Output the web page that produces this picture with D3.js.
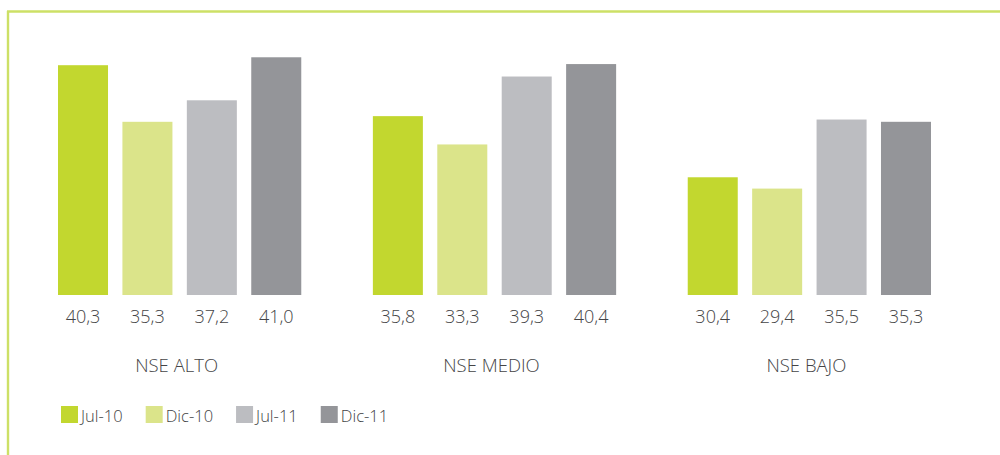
<!DOCTYPE html>
<html>
<head>
<meta charset="utf-8">
<script src="https://cdn.jsdelivr.net/npm/d3@7"></script>
<style>
  html, body { margin: 0; padding: 0; background: #fff; }
  svg { display: block; font-family: "Open Sans", sans-serif; font-weight: 300; }
</style>
</head>
<body>
<svg id="chart" width="1000" height="455"></svg>
<script>
const groups = ["NSE ALTO", "NSE MEDIO", "NSE BAJO"];
const series = ["Jul-10", "Dic-10", "Jul-11", "Dic-11"];
const nseAlto = [40.3, 35.3, 37.2, 41.0];
const nseMedio = [35.8, 33.3, 39.3, 40.4];
const nseBajo = [30.4, 29.4, 35.5, 35.3];
const colors = ["#c2d72f", "#dbe48a", "#bcbdc1", "#949599"];

const groupValues = [nseAlto, nseMedio, nseBajo];
const data = groups.map((g, gi) => ({
  group: g,
  values: series.map((s, si) => ({ series: s, value: groupValues[gi][si] }))
}));

const svg = d3.select("#chart");

// frame lines
svg.append("line").attr("x1", 8).attr("x2", 8).attr("y1", 11).attr("y2", 455)
  .attr("stroke", "#cde066").attr("stroke-width", 2.4);
svg.append("line").attr("x1", 7).attr("x2", 1000).attr("y1", 11.5).attr("y2", 11.5)
  .attr("stroke", "#cde066").attr("stroke-width", 2.4);

const x0 = d3.scaleBand().domain(groups).range([58, 931]).paddingInner(0.2274).paddingOuter(0);
const x1 = d3.scaleBand().domain(series).range([0, x0.bandwidth()]).paddingInner(0.2236).paddingOuter(0);
const y = d3.scaleLinear().domain([20, 45]).range([295, 12]);
const color = d3.scaleOrdinal().domain(series).range(colors);

const g = svg.selectAll("g.grp").data(data).join("g")
  .attr("class", "grp")
  .attr("transform", d => `translate(${x0(d.group)},0)`);

g.selectAll("rect").data(d => d.values).join("rect")
  .attr("x", d => x1(d.series))
  .attr("width", x1.bandwidth())
  .attr("y", d => y(d.value))
  .attr("height", d => y(20) - y(d.value))
  .attr("fill", d => color(d.series));

g.selectAll("text.val").data(d => d.values).join("text")
  .attr("class", "val")
  .attr("x", d => x1(d.series) + x1.bandwidth() / 2)
  .attr("y", 323)
  .attr("text-anchor", "middle")
  .attr("font-size", 18)
  .attr("fill", "#444446")
  .text(d => d3.format(".1f")(d.value).replace(".", ","));

g.append("text")
  .attr("x", x0.bandwidth() / 2 - 3)
  .attr("y", 372)
  .attr("text-anchor", "middle")
  .attr("font-size", 18.5)
  .attr("fill", "#444446")
  .text(d => d.group);

// legend
const legend = svg.append("g").attr("transform", "translate(61,406)");
let lx = 0;
series.forEach((s) => {
  const item = legend.append("g").attr("transform", `translate(${lx},0)`);
  item.append("rect").attr("width", 17).attr("height", 17).attr("fill", color(s));
  const t = item.append("text").attr("x", 20).attr("y", 15.5)
    .attr("font-size", 16.5).attr("fill", "#444446").text(s);
  lx += 20 + t.node().getComputedTextLength() + 23;
});
</script>
</body>
</html>
